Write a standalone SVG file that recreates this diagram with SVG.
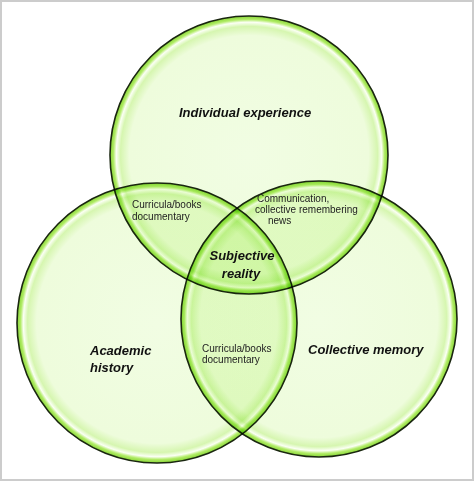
<svg xmlns="http://www.w3.org/2000/svg" width="474" height="481" viewBox="0 0 474 481">
<defs>
<radialGradient id="g" cx="0.5" cy="0.5" r="0.5">
<stop offset="0" stop-color="#f1fde3"/>
<stop offset="0.86" stop-color="#eefcdc"/>
<stop offset="0.925" stop-color="#d6f6b0"/>
<stop offset="0.955" stop-color="#fbfff4"/>
<stop offset="0.975" stop-color="#b2ec68"/>
<stop offset="1" stop-color="#86d634"/>
</radialGradient>
<style>
.c{fill:url(#g);stroke:#1a2610;stroke-width:1.6;mix-blend-mode:multiply}
.b{font-family:"Liberation Sans",Arial,sans-serif;font-weight:bold;font-style:italic;font-size:13px;fill:#111}
.s{font-family:"Liberation Sans",Arial,sans-serif;font-size:10px;fill:#222}
</style>
</defs>
<rect x="0" y="0" width="474" height="481" fill="#ffffff"/>
<rect x="1" y="1" width="472" height="479" fill="none" stroke="#cccccc" stroke-width="2"/>
<g id="individual-experience"><circle class="c" cx="249" cy="155" r="139"/></g>
<g id="academic-history"><circle class="c" cx="157" cy="323" r="140"/></g>
<g id="collective-memory"><circle class="c" cx="319" cy="319" r="138"/></g>
<g id="labels">
<text class="b" x="245" y="117" text-anchor="middle">Individual experience</text>
<text class="s" x="132" y="208">Curricula/books</text>
<text class="s" x="132" y="220">documentary</text>
<text class="s" x="257" y="202">Communication,</text>
<text class="s" x="255" y="213">collective remembering</text>
<text class="s" x="268" y="224">news</text>
<text class="b" x="242" y="260" text-anchor="middle">Subjective</text>
<text class="b" x="241" y="278" text-anchor="middle">reality</text>
<text class="b" x="90" y="355">Academic</text>
<text class="b" x="90" y="372">history</text>
<text class="s" x="202" y="352">Curricula/books</text>
<text class="s" x="202" y="363">documentary</text>
<text class="b" x="308" y="354">Collective memory</text>
</g>
</svg>
